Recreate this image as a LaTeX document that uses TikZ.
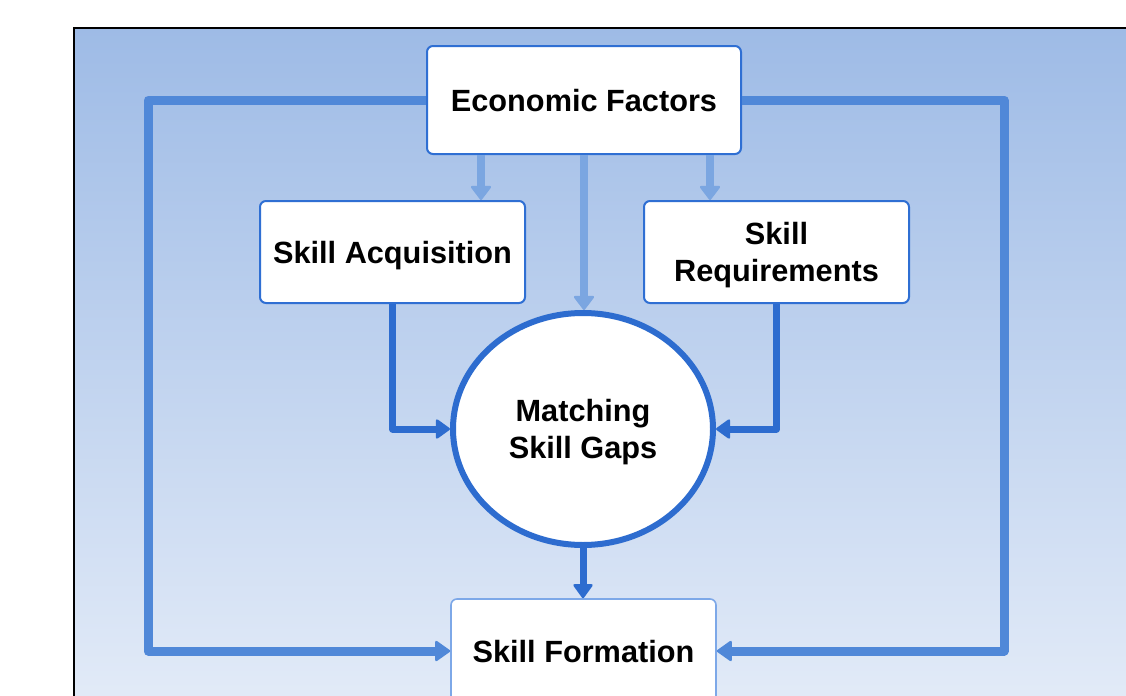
\documentclass[tikz,border=0pt]{standalone}
\usepackage{fontspec}
\setmainfont{Liberation Sans}
\usetikzlibrary{shapes.geometric,arrows.meta,calc}
\definecolor{bgtop}{RGB}{158,187,230}
\definecolor{bgbot}{RGB}{228,236,248}
\definecolor{boxblue}{RGB}{47,111,211}
\definecolor{sfblue}{RGB}{125,168,232}
\definecolor{darkarr}{RGB}{45,108,207}
\definecolor{midarr}{RGB}{80,136,216}
\definecolor{lightarr}{RGB}{123,166,225}
\tikzset{
  lbl/.style={font=\fontsize{15.35}{18.5}\selectfont\bfseries, align=center, text=black, text depth=0pt},
  box/.style={lbl, draw=boxblue, line width=1pt, fill=white, rounded corners=3pt, minimum width=132.5pt, minimum height=51pt, inner sep=0pt},
  lightline/.style={draw=lightarr, line width=4pt, -{Triangle[round, line width=1.2pt, width=11pt, length=7.5pt]}},
  darkline/.style={draw=darkarr, line width=3.5pt, line join=round, -{Triangle[round, line width=1.2pt, width=10.5pt, length=7.5pt]}},
  loopline/.style={draw=midarr, line width=4.5pt, line join=round, -{Triangle[round, line width=1.2pt, width=11pt, length=8pt]}}
}
\begin{document}
\begin{tikzpicture}[x=0.5pt, y=-0.5pt]
\useasboundingbox (0,0) rectangle (1126,696);
\begin{scope}
\clip (0,0) rectangle (1126,696);
\shade[top color=bgtop, bottom color=bgbot] (74,28) rectangle (1130,720);
\draw[black, line width=0.8pt] (74,720) -- (74,28) -- (1130,28);

\node[box, minimum width=157pt, minimum height=54pt] (EF) at (584,100) {Economic Factors};
\node[box] (SA) at (392.5,252) {Skill Acquisition};
\node[box] (SR) at (776.5,252) {Skill\\Requirements};
\node[lbl, ellipse, draw=darkarr, line width=3pt, fill=white, minimum width=130pt, minimum height=116pt, inner sep=0pt] (MG) at (583,429) {Matching\\Skill Gaps};
\node[box, draw=sfblue, line width=0.8pt, minimum height=52pt] (SF) at (583.5,651) {Skill Formation};

\coordinate (lc) at (148,0);
\coordinate (rc) at (1004,0);

\draw[lightline] ([xshift=-51.5pt]EF.south) -- ([xshift=-51.5pt]EF.south |- SA.north);
\draw[lightline] ([xshift=63pt]EF.south) -- ([xshift=63pt]EF.south |- SR.north);
\draw[lightline] (EF.south) -- (EF.south |- MG.north);

\draw[darkline] (SA.south) |- (MG.west);
\draw[darkline] (SR.south) |- (MG.east);
\draw[darkline] (MG.south) -- (MG.south |- SF.north);

\draw[loopline] (EF.west) -- (EF.west -| lc) -- (SF.west -| lc) -- (SF.west);
\draw[loopline] (EF.east) -- (EF.east -| rc) -- (SF.east -| rc) -- (SF.east);
\end{scope}
\end{tikzpicture}
\end{document}
